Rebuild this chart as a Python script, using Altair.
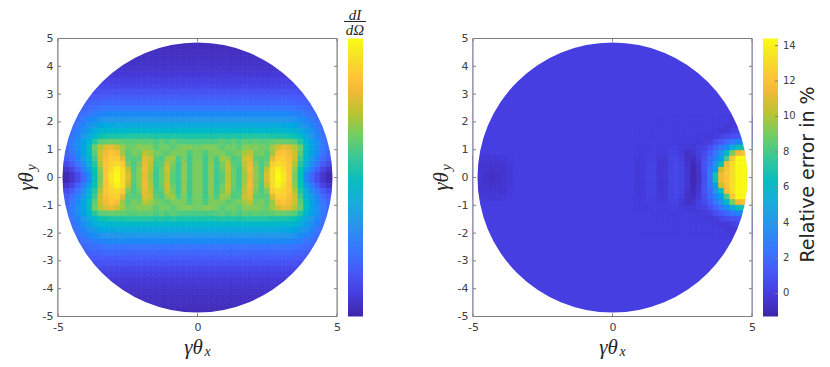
import altair as alt
import pandas as pd

W, H = 279, 278
X_TICKS = [-5, 0, 5]
Y_TICKS = [-5, -4, -3, -2, -1, 0, 1, 2, 3, 4, 5]
CB_TICKS_R = [0, 2, 4, 6, 8, 10, 12, 14]
STEP = 0.2
PARULA = ["#3e26a8", "#463cde", "#4758f8", "#3875fe", "#2796eb", "#18addb", "#0bbdbd",
          "#37c897", "#72cd64", "#b9c431", "#f0ba36", "#fec338", "#f7dc2a", "#f9fb15"]
PARULA_POS = [0, 5, 10, 15, 21, 26, 31, 36, 41, 46, 51, 54, 58, 63]

# left panel: upper right quadrant, one row per y centre (0.1 ... 4.9), columns x centre 0.1 ... 4.9
L_ROWS = [
 [66,58,68,58,62,74,64,58,70,80,68,62,78,92,100,95,86,66,50,30,20,12,6,2,0],
 [66,58,68,58,64,76,64,58,72,82,68,60,74,92,98,92,85,68,52,36,26,18,10,6,3],
 [66,58,68,58,66,74,62,60,74,80,66,60,66,88,92,90,86,72,55,42,31,24,17,12,9],
 [65,58,66,60,70,68,60,62,76,78,62,62,62,78,88,88,84,76,58,45,35,27,21,16,13],
 [65,60,66,66,66,62,64,66,70,74,64,66,62,70,84,86,82,76,62,48,38,30,24,19,16],
 [65,67,67,65,62,65,65,62,67,67,67,65,64,70,76,80,78,72,64,48,38,31,25,20,17],
 [60,60,60,61,63,60,63,60,63,62,63,62,62,63,64,64,63,62,55,45,37,31,25,21,18],
 [54,54,54,54,55,54,55,54,55,55,55,55,55,54,54,54,53,52,46,40,34,28,24,20,18],
 [46,46,46,46,46,46,46,46,46,46,46,46,46,46,46,45,45,44,40,36,31,26,22,19,17],
 [40,40,40,40,40,40,40,40,40,40,40,40,40,40,40,39,39,38,35,32,28,24,21,18,16],
 [34,34,34,34,34,34,34,34,34,34,34,34,34,34,33,33,33,32,30,28,25,22,19,17,15],
 [29,29,29,29,29,29,29,29,29,29,29,29,29,29,29,29,28,27,26,24,22,20,18,16,14],
 [24,24,24,24,24,24,24,24,24,24,24,24,24,24,24,24,24,23,22,21,19,18,16,14,13],
 [20,20,20,20,20,20,20,20,20,20,20,20,20,20,20,20,20,19,19,18,17,16,14,13,12],
 [17,17,17,17,17,17,17,17,17,17,17,17,17,17,17,17,17,16,16,15,15,14,13,12,11],
 [14,14,14,14,14,14,14,14,14,14,14,14,14,14,14,14,14,14,13,13,13,12,12,11,10],
 [11,11,11,11,11,11,11,11,11,11,11,11,11,11,11,11,11,11,11,11,11,10,10,10,9],
 [9,9,9,9,9,9,9,9,9,9,9,9,9,9,9,9,9,9,9,9,9,9,9,9,8],
 [7,7,7,7,7,7,7,7,7,7,7,7,7,7,7,7,7,7,7,7,7,7,7,7,7],
 [6,6,6,6,6,6,6,6,6,6,6,6,6,6,6,6,6,6,6,6,6,6,6,6,6],
 [5,5,5,5,5,5,5,5,5,5,5,5,5,5,5,5,5,5,5,5,5,5,5,5,5],
 [4,4,4,4,4,4,4,4,4,4,4,4,4,4,4,4,4,4,4,4,4,4,4,4,4],
 [4,4,4,4,4,4,4,4,4,4,4,4,4,4,4,4,4,4,4,4,4,4,4,4,4],
 [3,3,3,3,3,3,3,3,3,3,3,3,3,3,3,3,3,3,3,3,3,3,3,3,3],
 [3,3,3,3,3,3,3,3,3,3,3,3,3,3,3,3,3,3,3,3,3,3,3,3,3],
]
L_X = [round(0.1 + 0.2 * i, 1) for i in range(25)]
L_Y = [round(0.1 + 0.2 * i, 1) for i in range(25)]

# right panel: background level, then the detailed region on the right (y centre 0.1 ... 2.1, x centre 0.9 ... 4.9)
R_BASE = 0.05
R_X = [0.9,1.1,1.3,1.5,1.7,1.9,2.1,2.3,2.5,2.7,2.9,3.1,3.3,3.5,3.7,3.9,4.1,4.3,4.5,4.7,4.9]
R_Y = [0.1,0.3,0.5,0.7,0.9,1.1,1.3,1.5,1.7,1.9,2.1]
R_ROWS = [
 [-.2,-.1,.2,.2,-.3,-.2,.3,.5,.3,-.3,-1,-.5,.8,2.5,7,11.5,12.3,13.3,14.4,14.4,14.4],
 [-.2,-.1,.2,.2,-.3,-.2,.3,.5,.3,-.3,-1,-.4,.9,2.4,4.5,10.5,12.2,13.3,14.4,14.4,14.4],
 [-.2,-.1,.2,.2,-.3,-.2,.3,.5,.2,-.4,-.9,-.3,1,2,3.8,6.5,11.8,13.3,14.4,14.4,14.4],
 [-.1,-.1,.1,.1,-.2,-.2,.3,.4,0,-.6,-.7,-.1,.8,1.8,3,4.5,8,12.3,14.4,14.4,14.4],
 [0,0,.1,.1,-.1,0,.2,.2,-.2,-.6,-.4,.1,.6,1.3,2.5,3.8,6,9,11.5,12,12],
 [0,0,0,.1,0,0,.1,.1,-.1,-.2,-.2,.1,.2,.8,1.5,2.5,3.5,5,6.5,7,7],
 [.05,.05,.05,.05,.05,.05,.05,.05,0,0,.05,-.2,0,.1,.7,1.2,1.8,2.5,3,3.2,3.2],
 [.05,.05,.05,.05,.05,.05,.05,.05,.05,.05,.05,0,-.1,-.2,0,.3,.6,.8,1,1.2,1.2],
 [.05,.05,.05,.05,.05,.05,.05,.05,.05,.05,.05,.05,.05,0,-.1,-.2,-.2,.1,.3,.3,.3],
 [.05,.05,.05,.05,.05,.05,.05,.05,.05,.05,.05,.05,.05,.05,.05,0,-.2,-.2,-.1,0,0],
 [.05,.05,.05,.05,.05,.05,.05,.05,.05,.05,.05,.05,.05,.05,.05,.05,0,-.2,-.1,0,0],
]
# faint spot near the left rim of the right panel
S_X = [-4.9,-4.7,-4.5,-4.3,-4.1,-3.9,-3.7]
S_Y = [0.1,0.3,0.5,0.7]
S_ROWS = [
 [-.3,-.3,-.5,-.7,-.5,-.3,-.2],
 [-.3,-.3,-.4,-.5,-.4,-.3,-.2],
 [-.2,-.3,-.3,-.3,-.3,-.3,-.1],
 [.05,-.2,-.2,-.2,-.2,-.1,.05],
]

LEFT_DOMAIN = [0, 100]
RIGHT_DOMAIN = [-1.3, 14.4]
XTITLE = ["γθ", "x"]
YTITLE = ["γθ", "y"]
FRAC = ["dI", "dΩ"]
CB_TITLE = "Relative error in %"
GRAY = "#7f7f7f"
TXT = "#404040"
INK = "#262626"
SERIF = "Liberation Serif"
one = pd.DataFrame({"c": [0]})


def cells(xs, ys, rows, mirror_x):
    out = []
    for y, row in zip(ys, rows):
        for x, v in zip(xs, row):
            for sy in (1, -1):
                for sx in ((1, -1) if mirror_x else (1,)):
                    cx, cy = sx * x, sy * y
                    out.append(dict(x0=cx - STEP / 2, x1=cx + STEP / 2,
                                    y0=cy - STEP / 2, y1=cy + STEP / 2, v=v))
    return out


def panel(df, domain):
    stops = [domain[0] + (domain[1] - domain[0]) * p / 63 for p in PARULA_POS]
    xs = alt.Scale(domain=[-5, 5], nice=False, zero=False)
    ys = alt.Scale(domain=[-5, 5], nice=False, zero=False)
    color = alt.Scale(domain=stops, range=PARULA, clamp=True)
    xa = alt.Axis(values=X_TICKS, domain=False, ticks=False, grid=False, title=None,
                  labelFont="DejaVu Sans", labelFontSize=11, labelColor=TXT, labelPadding=5,
                  labelExpr="toString(datum.value)", labelFlush=False)
    ya = alt.Axis(values=Y_TICKS, domain=False, ticks=False, grid=False, title=None,
                  labelFont="DejaVu Sans", labelFontSize=11, labelColor=TXT, labelPadding=5,
                  labelExpr="toString(datum.value)", labelFlush=False)
    rect = alt.Chart(df).mark_rect(strokeWidth=0.7).encode(
        x=alt.X("x0:Q", scale=xs, axis=xa),
        x2="x1:Q",
        y=alt.Y("y0:Q", scale=ys, axis=ya),
        y2="y1:Q",
        fill=alt.Fill("v:Q", scale=color, legend=None),
        stroke=alt.Stroke("v:Q", scale=color, legend=None),
    )
    mask = alt.Chart(one).mark_arc(
        radius=135, radius2=215, theta=0, theta2=6.2832, fill="white", clip=True
    ).encode(x=alt.X("c:Q", scale=xs, axis=xa), y=alt.Y("c:Q", scale=ys, axis=ya))
    frame = alt.Chart(pd.DataFrame({"a": [-5], "b": [5]})).mark_rect(
        fillOpacity=0, fill="white", stroke=GRAY, strokeWidth=1
    ).encode(x=alt.X("a:Q", scale=xs, axis=xa), x2="b:Q", y=alt.Y("a:Q", scale=ys, axis=ya), y2="b:Q")
    xt = pd.DataFrame({"t": X_TICKS})
    yt = pd.DataFrame({"t": Y_TICKS})
    tick = dict(color=GRAY, strokeWidth=1)
    t1 = alt.Chart(xt).mark_rule(**tick).encode(x=alt.X("t:Q", scale=xs, axis=xa), y=alt.value(H), y2=alt.value(H - 3))
    t2 = alt.Chart(xt).mark_rule(**tick).encode(x=alt.X("t:Q", scale=xs, axis=xa), y=alt.value(0), y2=alt.value(3))
    t3 = alt.Chart(yt).mark_rule(**tick).encode(y=alt.Y("t:Q", scale=ys, axis=ya), x=alt.value(0), x2=alt.value(3))
    t4 = alt.Chart(yt).mark_rule(**tick).encode(y=alt.Y("t:Q", scale=ys, axis=ya), x=alt.value(W), x2=alt.value(W - 3))
    gt = alt.Chart(one).mark_text(text=XTITLE[0], font=SERIF, fontStyle="italic", fontSize=21, color=INK).encode(
        x=alt.value(W / 2 - 4), y=alt.value(H + 31))
    gs = alt.Chart(one).mark_text(text=XTITLE[1], font=SERIF, fontStyle="italic", fontSize=14, color=INK).encode(
        x=alt.value(W / 2 + 10), y=alt.value(H + 35))
    yg = alt.Chart(one).mark_text(text=YTITLE[0], font=SERIF, fontStyle="italic", fontSize=21, angle=270, color=INK).encode(
        x=alt.value(-31), y=alt.value(H / 2 + 4))
    ys2 = alt.Chart(one).mark_text(text=YTITLE[1], font=SERIF, fontStyle="italic", fontSize=14, angle=270, color=INK).encode(
        x=alt.value(-26), y=alt.value(H / 2 - 10))
    grad = alt.LinearGradient(
        gradient="linear", x1=0, x2=0, y1=1, y2=0,
        stops=[alt.GradientStop(offset=p / 63, color=c) for p, c in zip(PARULA_POS, PARULA)])
    bar = alt.Chart(one).mark_rect(fill=grad).encode(
        x=alt.value(W + 11), x2=alt.value(W + 26), y=alt.value(0), y2=alt.value(H))
    return alt.layer(rect, mask, frame, t1, t2, t3, t4, gt, gs, yg, ys2, bar)


left_df = pd.DataFrame(cells(L_X, L_Y, L_ROWS, True))
base = [dict(x0=-5, x1=5, y0=-5, y1=5, v=R_BASE)]
right_df = pd.DataFrame(base + cells(R_X, R_Y, R_ROWS, False) + cells(S_X, S_Y, S_ROWS, False))

left = panel(left_df, LEFT_DOMAIN)
right = panel(right_df, RIGHT_DOMAIN)

f1 = alt.Chart(one).mark_text(text=FRAC[0], font=SERIF, fontStyle="italic", fontSize=15, color=INK).encode(
    x=alt.value(W + 18), y=alt.value(-24))
f2 = alt.Chart(one).mark_text(text=FRAC[1], font=SERIF, fontStyle="italic", fontSize=15, color=INK).encode(
    x=alt.value(W + 18), y=alt.value(-9))
fl = alt.Chart(one).mark_rule(color=INK, strokeWidth=1).encode(
    x=alt.value(W + 7), x2=alt.value(W + 29), y=alt.value(-17))
left = alt.layer(left, f1, f2, fl)

cb_y = alt.Y("t:Q", scale=alt.Scale(domain=RIGHT_DOMAIN, nice=False, zero=False), axis=None)
cb_df = pd.DataFrame({"t": CB_TICKS_R})
cb_ticks = alt.Chart(cb_df).mark_rule(color=GRAY, strokeWidth=1).encode(
    y=cb_y, x=alt.value(W + 26), x2=alt.value(W + 23))
cb_labels = alt.Chart(cb_df).mark_text(font="DejaVu Sans", fontSize=10, color=TXT, align="left").encode(
    y=cb_y, x=alt.value(W + 31), text="t:Q")
cb_title = alt.Chart(one).mark_text(text=CB_TITLE, font="DejaVu Sans", fontSize=19, angle=270, color=INK).encode(
    x=alt.value(W + 56), y=alt.value(H / 2 - 3))
right = alt.layer(right, cb_ticks, cb_labels, cb_title).resolve_scale(y="independent")

chart = alt.hconcat(left.properties(width=W, height=H), right.properties(width=W, height=H), spacing=64,
                    padding={"left": 8, "top": -0.5, "right": 0, "bottom": 0}).resolve_scale(
    fill="independent", stroke="independent").configure_view(stroke=None)

chart.save("out.html", embed_options={"renderer": "svg", "actions": False})
